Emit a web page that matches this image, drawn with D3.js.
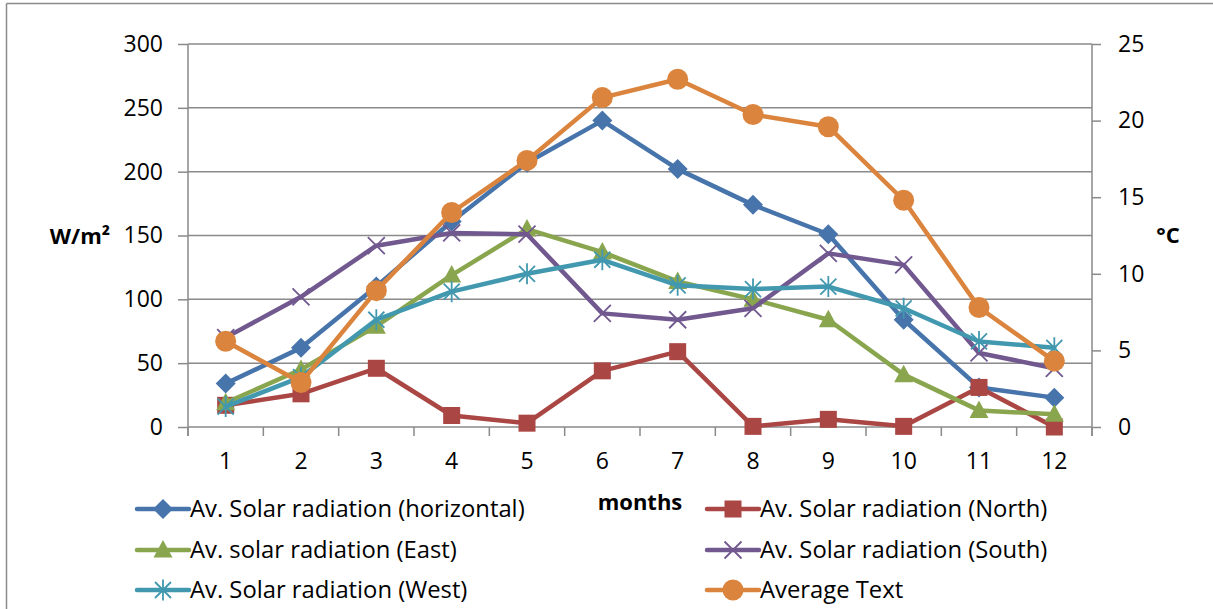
<!DOCTYPE html>
<html>
<head>
<meta charset="utf-8">
<script src="https://cdn.jsdelivr.net/npm/d3@7"></script>
<style>
  body { margin: 0; background: #fff; }
  text { font-family: "Open Sans", Lato, sans-serif; fill: #000; }
</style>
</head>
<body>
<div id="chart"></div>
<script>
"use strict";
(function() {

const WIDTH = 1213
const HEIGHT = 609

const margin = { top: 44, bottom: 182, left: 188, right: 121 }

// data
const months = [1, 2, 3, 4, 5, 6, 7, 8, 9, 10, 11, 12]
const horizontal = [34, 62, 110, 161, 207, 240, 202, 174, 151, 84, 31, 23]
const north = [17, 26, 46, 9, 3, 44, 59, 0.5, 6, 0.5, 31, 0]
const east = [19, 45, 79, 119, 155, 137, 114, 100, 84, 41, 13, 10]
const south = [70, 102, 142, 152, 151, 89, 84, 93, 136, 127, 58, 46]
const west = [16, 39, 84, 106, 120, 131, 111, 108, 110, 93, 67, 62]
const avgTemp = [5.6, 2.9, 8.9, 14.0, 17.4, 21.5, 22.7, 20.4, 19.6, 14.8, 7.8, 4.3]

const leftTicks = [0, 50, 100, 150, 200, 250, 300]
const rightTicks = [0, 5, 10, 15, 20, 25]

const series = [
    { name: "Av. Solar radiation (horizontal)", values: horizontal, color: "#4674AB", marker: "diamond", axis: "left" },
    { name: "Av. Solar radiation (North)", values: north, color: "#AA4643", marker: "square", axis: "left" },
    { name: "Av. solar radiation (East)", values: east, color: "#89A54E", marker: "triangle", axis: "left" },
    { name: "Av. Solar radiation (South)", values: south, color: "#71588F", marker: "x", axis: "left" },
    { name: "Av. Solar radiation (West)", values: west, color: "#4198AF", marker: "star", axis: "left" },
    { name: "Average Text", values: avgTemp, color: "#DB843D", marker: "circle", axis: "right" }
]

const GRID = "#8a8a8a"
const FONT = 23
const LEGEND_FONT = 23.8

var svg = d3.select("#chart").append("svg")
    .attr("width", WIDTH)
    .attr("height", HEIGHT)

// outer frame (top and left edges visible)
svg.append("line").attr("x1", 6.5).attr("x2", WIDTH).attr("y1", 3.5).attr("y2", 3.5)
    .attr("stroke", GRID).attr("stroke-width", 1.5)
svg.append("line").attr("x1", 6.5).attr("x2", 6.5).attr("y1", 3.5).attr("y2", HEIGHT)
    .attr("stroke", GRID).attr("stroke-width", 1.5)

let x = d3.scaleBand().domain(months).range([margin.left, WIDTH - margin.right]).padding(0)
let yL = d3.scaleLinear().domain([0, 300]).range([HEIGHT - margin.bottom, margin.top])
let yR = d3.scaleLinear().domain([0, 25]).range([HEIGHT - margin.bottom, margin.top])

let cx = d => x(d) + x.bandwidth() / 2
let x0 = x.range()[0], x1 = x.range()[1], yBase = yL(0)

// gridlines
svg.append("g").selectAll("line").data(leftTicks).join("line")
    .attr("x1", x0).attr("x2", x1)
    .attr("y1", d => yL(d)).attr("y2", d => yL(d))
    .attr("stroke", GRID).attr("stroke-width", 1.5)

// left axis
let la = svg.append("g").attr("transform", `translate(${x0},0)`)
    .call(d3.axisLeft(yL).tickValues(leftTicks).tickSizeInner(10).tickSizeOuter(0).tickPadding(15))
la.select(".domain").remove()
la.selectAll(".tick line").attr("stroke", GRID).attr("stroke-width", 1.5)
la.selectAll(".tick text").attr("font-size", FONT).attr("fill", "#000")
la.append("line").attr("x1", 0).attr("x2", 0).attr("y1", yL(300)).attr("y2", yBase + 9)
    .attr("stroke", GRID).attr("stroke-width", 1.5)

// right axis
let ra = svg.append("g").attr("transform", `translate(${x1},0)`)
    .call(d3.axisRight(yR).tickValues(rightTicks).tickSizeInner(9).tickSizeOuter(0).tickPadding(17))
ra.select(".domain").remove()
ra.selectAll(".tick line").attr("stroke", GRID).attr("stroke-width", 1.5)
ra.selectAll(".tick text").attr("font-size", FONT).attr("fill", "#000")
ra.append("line").attr("x1", 0).attr("x2", 0).attr("y1", yR(25)).attr("y2", yBase + 9)
    .attr("stroke", GRID).attr("stroke-width", 1.5)

// bottom axis: ticks at band edges, labels at centres
let edges = months.map(m => x(m)).concat([x1])
svg.append("g").selectAll("line").data(edges).join("line")
    .attr("x1", d => d).attr("x2", d => d)
    .attr("y1", yBase).attr("y2", yBase + 9)
    .attr("stroke", GRID).attr("stroke-width", 1.5)
let xa = svg.append("g").attr("transform", `translate(0,${yBase})`)
    .call(d3.axisBottom(x).tickSize(0).tickPadding(26))
xa.select(".domain").remove()
xa.selectAll(".tick text").attr("font-size", FONT).attr("fill", "#000")

// axis titles
svg.append("text").text("months")
    .attr("x", 640).attr("y", 510)
    .attr("text-anchor", "middle").attr("font-size", 22).attr("font-weight", "bold")
svg.append("text").text("W/m²")
    .attr("x", 80).attr("y", 244)
    .attr("text-anchor", "middle").attr("font-size", 22).attr("font-weight", "bold")
svg.append("text").text("°C")
    .attr("x", 1168).attr("y", 243)
    .attr("text-anchor", "middle").attr("font-size", 22).attr("font-weight", "bold")

// markers
function drawMarker(g, type, color) {
    if (type === "diamond") {
        g.append("path").attr("d", "M0,-10L10,0L0,10L-10,0Z").attr("fill", color)
    } else if (type === "square") {
        g.append("rect").attr("x", -8.5).attr("y", -8.5).attr("width", 17).attr("height", 17).attr("fill", color)
    } else if (type === "triangle") {
        g.append("path").attr("d", "M0,-10L9.5,7.5L-9.5,7.5Z").attr("fill", color)
    } else if (type === "x") {
        g.append("path").attr("d", "M-8.5,-8.5L8.5,8.5M-8.5,8.5L8.5,-8.5").attr("stroke", color).attr("stroke-width", 1.8)
    } else if (type === "star") {
        g.append("path").attr("d", "M-8,-8L8,8M-8,8L8,-8M0,-10.5L0,10.5").attr("stroke", color).attr("stroke-width", 1.8)
    } else if (type === "circle") {
        g.append("circle").attr("r", 10.5).attr("fill", color)
    }
}

// series lines + markers
series.forEach(s => {
    let y = s.axis === "right" ? yR : yL
    let line = d3.line().x((d, i) => cx(months[i])).y(d => y(d))
    svg.append("path").datum(s.values)
        .attr("d", line)
        .attr("fill", "none")
        .attr("stroke", s.color)
        .attr("stroke-width", 4.5)
        .attr("stroke-linejoin", "round")
        .attr("stroke-linecap", "round")
    s.values.forEach((v, i) => {
        let g = svg.append("g").attr("transform", `translate(${cx(months[i])},${y(v)})`)
        drawMarker(g, s.marker, s.color)
    })
})

// legend: two columns, three rows
const legendCols = [137, 707]
const legendRows = [509, 550, 590]
series.forEach((s, i) => {
    let lx = legendCols[i % 2]
    let ly = legendRows[Math.floor(i / 2)]
    let g = svg.append("g").attr("transform", `translate(${lx},${ly})`)
    g.append("line").attr("x1", 0).attr("x2", 52).attr("y1", 0).attr("y2", 0)
        .attr("stroke", s.color).attr("stroke-width", 4.5).attr("stroke-linecap", "round")
    let m = g.append("g").attr("transform", "translate(26,0)")
    drawMarker(m, s.marker, s.color)
    g.append("text").text(s.name)
        .attr("x", 53).attr("y", 0).attr("dy", "0.35em")
        .attr("font-size", LEGEND_FONT)
})

})();
</script>
</body>
</html>
